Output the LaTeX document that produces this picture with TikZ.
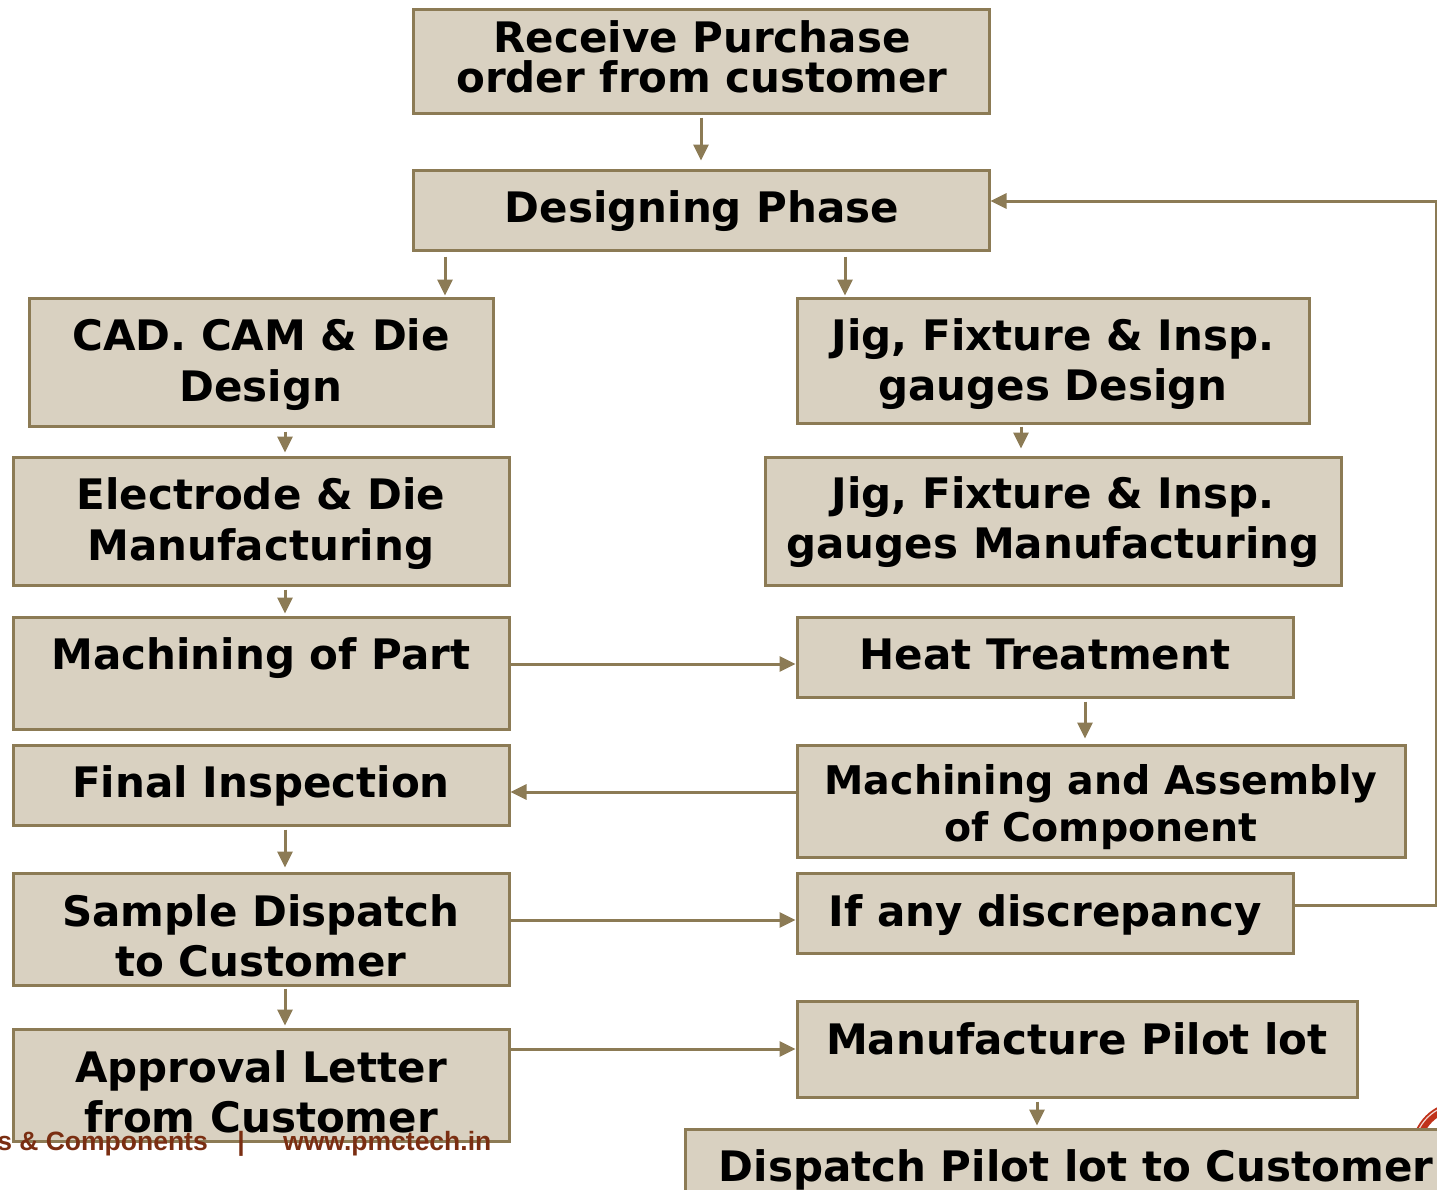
\documentclass[tikz,border=0pt]{standalone}
\usepackage{fontspec}
\setmainfont{DejaVu Sans}
\newfontfamily\footfont{Liberation Sans}
\usetikzlibrary{arrows.meta}
\definecolor{boxfill}{HTML}{D9D1C1}
\definecolor{boxline}{HTML}{8C7B55}
\definecolor{footred}{HTML}{7A2E12}
\definecolor{logored}{HTML}{C0321A}
\tikzset{
  box/.style={draw=boxline, fill=boxfill, line width=3pt, inner sep=0pt, rectangle},
  txt/.style={inner sep=0pt, anchor=base, text=black, font=\fontsize{42}{42}\selectfont\bfseries},
  txtsm/.style={txt, font=\fontsize{39.5}{40}\selectfont\bfseries},
  arr/.style={draw=boxline, line width=3pt, -{Triangle[length=16pt,width=15pt]}},
  foot/.style={inner sep=0pt, anchor=base, text=footred, font=\fontsize{26.5}{27}\selectfont\footfont\bfseries}
}
\newcommand{\boxat}[5]{\node[box, minimum width={(#4)-(#2)}, minimum height={(#5)-(#3)}] (#1) at ({((#2)+(#4))/2},{((#3)+(#5))/2}) {};}
\begin{document}
\begin{tikzpicture}[x=1pt,y=-1pt]
\useasboundingbox (0,0) rectangle (1437,1189);
\clip (0,0) rectangle (1437,1189);
% logo fragment
\draw[logored, line width=9pt] (1460,1150) circle (44);
\draw[white!80!logored, line width=1.2pt] (1460,1150) circle (46);
% boxes
\boxat{receive}{413}{9}{989}{113}
\boxat{design}{413}{170}{989}{250}
\boxat{cad}{29}{298}{493}{426}
\boxat{jigd}{797}{298}{1309}{423}
\boxat{elec}{13}{457}{509}{585}
\boxat{jigm}{765}{457}{1341}{585}
\boxat{mach}{13}{617}{509}{729}
\boxat{heat}{797}{617}{1293}{697}
\boxat{final}{13}{745}{509}{825}
\boxat{asm}{797}{745}{1405}{857}
\boxat{sample}{13}{873}{509}{985}
\boxat{disc}{797}{873}{1293}{953}
\boxat{appr}{13}{1029}{509}{1141}
\boxat{manu}{797}{1001}{1357}{1097}
\boxat{disp}{685}{1129}{1460}{1220}
% texts
\node[txt] (receive-t1) at (702,52) {Receive Purchase};
\node[txt] (receive-t2) at (702,92) {order from customer};
\node[txt] (design-t) at (702,222) {Designing Phase};
\node[txt] (cad-t1) at (261,350) {CAD. CAM \& Die};
\node[txt] (cad-t2) at (261,401) {Design};
\node[txt] (jigd-t1) at (1053,350) {Jig, Fixture \& Insp.};
\node[txt] (jigd-t2) at (1053,400) {gauges Design};
\node[txt] (elec-t1) at (261,509) {Electrode \& Die};
\node[txt] (elec-t2) at (261,560) {Manufacturing};
\node[txt] (jigm-t1) at (1053,508) {Jig, Fixture \& Insp.};
\node[txt] (jigm-t2) at (1053,558) {gauges Manufacturing};
\node[txt] (mach-t) at (261,669) {Machining of Part};
\node[txt] (heat-t) at (1045,669) {Heat Treatment};
\node[txt] (final-t) at (261,797) {Final Inspection};
\node[txtsm] (asm-t1) at (1101,794) {Machining and Assembly};
\node[txtsm] (asm-t2) at (1101,841) {of Component};
\node[txt] (sample-t1) at (261,926) {Sample Dispatch};
\node[txt] (sample-t2) at (261,976) {to Customer};
\node[txt] (disc-t) at (1045,926) {If any discrepancy};
\node[txt] (appr-t1) at (261,1082) {Approval Letter};
\node[txt] (appr-t2) at (261,1132) {from Customer};
\node[txt] (manu-t) at (1077,1054) {Manufacture Pilot lot};
\node[txt] (disp-t) at (1076,1181) {Dispatch Pilot lot to Customer};
% footer
\node[foot, anchor=base east] (foot1) at (208,1150) {s \& Components};
\node[foot] (foot2) at (241,1150) {|};
\node[foot, anchor=base west] (foot3) at (283,1150) {www.pmctech.in};
% column coordinates
\coordinate (xa) at (445,0);
\coordinate (xb) at (845,0);
\coordinate (xc) at (285,0);
\coordinate (xd) at (1021,0);
\coordinate (xe) at (1085,0);
\coordinate (xf) at (1037,0);
\coordinate (ya) at (0,664);
\coordinate (yb) at (0,792);
\coordinate (yc) at (0,920);
\coordinate (yd) at (0,1049);
\coordinate (ye) at (0,905);
\coordinate (yf) at (0,201);
\coordinate (cr1) at (1436,905);
\coordinate (cr2) at (1436,201);
% connectors
\draw[arr, shorten <=3pt, shorten >=8pt] (receive.south) -- (design.north);
\draw[arr, shorten <=5pt, shorten >=1pt] (design.south -| xa) -- (cad.north -| xa);
\draw[arr, shorten <=5pt, shorten >=1pt] (design.south -| xb) -- (jigd.north -| xb);
\draw[arr, shorten <=4pt, shorten >=3pt] (cad.south -| xc) -- (elec.north -| xc);
\draw[arr, shorten <=2pt, shorten >=7pt] (jigd.south -| xd) -- (jigm.north -| xd);
\draw[arr, shorten <=3pt, shorten >=2pt] (elec.south -| xc) -- (mach.north -| xc);
\draw[arr] (mach.east |- ya) -- (heat.west |- ya);
\draw[arr, shorten <=3pt, shorten >=5pt] (heat.south -| xe) -- (asm.north -| xe);
\draw[arr] (asm.west |- yb) -- (final.east |- yb);
\draw[arr, shorten <=3pt, shorten >=4pt] (final.south -| xc) -- (sample.north -| xc);
\draw[arr] (sample.east |- yc) -- (disc.west |- yc);
\draw[arr] (disc.east |- ye) -- (cr1) -- (cr2) -- (design.east |- yf);
\draw[arr, shorten <=2pt, shorten >=2pt] (sample.south -| xc) -- (appr.north -| xc);
\draw[arr] (appr.east |- yd) -- (manu.west |- yd);
\draw[arr, shorten <=3pt, shorten >=2pt] (manu.south -| xf) -- (disp.north -| xf);
\end{tikzpicture}
\end{document}
